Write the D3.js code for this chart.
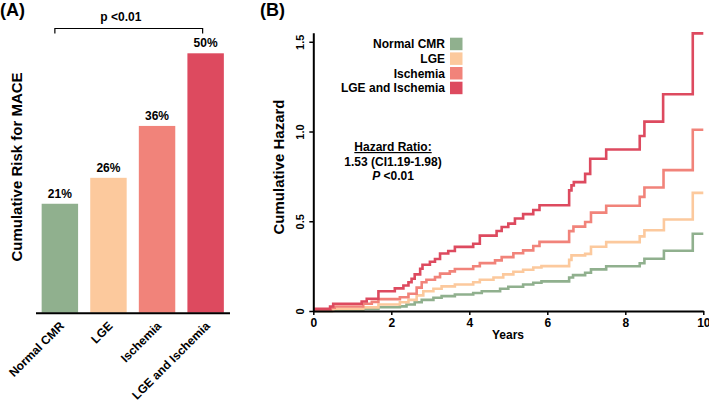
<!DOCTYPE html>
<html>
<head>
<meta charset="utf-8">
<script src="https://cdn.jsdelivr.net/npm/d3@7"></script>
<style>
  html, body { margin: 0; padding: 0; background: #fff; }
  svg { display: block; font-family: "Liberation Sans", Arial, Helvetica, sans-serif; }
</style>
</head>
<body>
<svg id="chart" width="709" height="402"></svg>
<script>
// ---------- Data ----------
const categories = ["Normal CMR", "LGE", "Ischemia", "LGE and Ischemia"];
const colors = ["#90b08e", "#fcc99d", "#f1837a", "#dd4a5f"];
const riskValues = [21, 26, 36, 50];
const riskLabels = ["21%", "26%", "36%", "50%"];

const normalT = [0, 0.47, 1.28, 1.67, 2.22, 2.39, 2.6, 2.78, 3.08, 3.29, 3.63, 4.1, 4.32, 4.79, 5.0, 5.38, 5.64, 5.85, 6.56, 6.66, 6.97, 7.12, 7.51, 8.37, 8.49, 8.99, 9.73, 10];
const normalV = [0, 0.006, 0.012, 0.021, 0.026, 0.036, 0.049, 0.062, 0.074, 0.083, 0.092, 0.1, 0.11, 0.124, 0.135, 0.148, 0.157, 0.165, 0.187, 0.2, 0.213, 0.232, 0.249, 0.266, 0.291, 0.336, 0.43, 0.43];

const lgeT = [0, 0.51, 1.28, 1.67, 2.22, 2.44, 2.65, 2.82, 3.08, 3.29, 3.63, 4.1, 4.27, 4.62, 4.87, 5.13, 5.38, 5.64, 5.85, 6.56, 6.62, 6.97, 7.12, 7.51, 8.37, 8.49, 8.99, 9.73, 10];
const lgeV = [0, 0.012, 0.02, 0.036, 0.049, 0.062, 0.087, 0.11, 0.124, 0.137, 0.148, 0.16, 0.174, 0.187, 0.204, 0.219, 0.23, 0.242, 0.25, 0.285, 0.31, 0.318, 0.358, 0.384, 0.416, 0.45, 0.51, 0.658, 0.658];

const ischT = [0, 0.45, 0.55, 1.28, 1.5, 1.67, 2.22, 2.44, 2.65, 2.78, 2.9, 3.12, 3.25, 3.5, 3.63, 4.1, 4.27, 4.66, 4.83, 5.13, 5.38, 5.64, 5.8, 6.56, 6.67, 6.97, 7.12, 7.51, 8.37, 8.49, 8.98, 9.73, 10];
const ischV = [0.005, 0.018, 0.025, 0.04, 0.051, 0.066, 0.077, 0.096, 0.13, 0.16, 0.174, 0.189, 0.208, 0.221, 0.234, 0.249, 0.267, 0.282, 0.3, 0.322, 0.338, 0.362, 0.385, 0.445, 0.47, 0.496, 0.548, 0.586, 0.636, 0.688, 0.785, 1.01, 1.01];

const bothT = [0, 0.43, 0.51, 1.24, 1.37, 1.67, 2.09, 2.31, 2.44, 2.52, 2.6, 2.74, 2.8, 2.99, 3.12, 3.25, 3.46, 3.63, 4.1, 4.27, 4.7, 4.83, 5.0, 5.17, 5.38, 5.64, 5.8, 6.56, 6.62, 6.68, 6.97, 7.1, 7.51, 8.37, 8.49, 8.97, 9.73, 10];
const bothV = [0.012, 0.025, 0.04, 0.053, 0.068, 0.11, 0.126, 0.142, 0.16, 0.18, 0.204, 0.235, 0.258, 0.274, 0.29, 0.32, 0.334, 0.357, 0.375, 0.42, 0.446, 0.468, 0.487, 0.515, 0.54, 0.563, 0.589, 0.672, 0.7, 0.718, 0.764, 0.848, 0.9, 0.975, 1.055, 1.208, 1.547, 1.547];

const yearTicks = [0, 2, 4, 6, 8, 10];
const hazardTicks = [0, 0.5, 1.0, 1.5];
const hazardTickLabels = ["0", "0.5", "1.0", "1.5"];

const seriesT = [normalT, lgeT, ischT, bothT];
const seriesV = [normalV, lgeV, ischV, bothV];

// ---------- Setup ----------
const svg = d3.select("#chart");

// ===== Panel A =====
const gA = svg.append("g");
const xA = d3.scaleBand().domain(categories).range([29.5, 236]).paddingInner(0.25).paddingOuter(0.25);
const yA = d3.scaleLinear().domain([0, 50]).range([312.7, 53.3]);

gA.append("text").attr("x", 0).attr("y", 16).attr("font-size", 18).attr("font-weight", "bold").text("(A)");

gA.selectAll("rect.bar").data(categories).enter().append("rect")
  .attr("class", "bar")
  .attr("x", d => xA(d))
  .attr("width", xA.bandwidth())
  .attr("y", (d, i) => yA(riskValues[i]))
  .attr("height", (d, i) => yA(0) - yA(riskValues[i]))
  .attr("fill", (d, i) => colors[i]);

gA.selectAll("text.val").data(categories).enter().append("text")
  .attr("class", "val")
  .attr("x", d => xA(d) + xA.bandwidth() / 2)
  .attr("y", (d, i) => yA(riskValues[i]) - 6)
  .attr("text-anchor", "middle")
  .attr("font-size", 12).attr("font-weight", "bold")
  .text((d, i) => riskLabels[i]);

// baseline axis
gA.append("line").attr("x1", 36).attr("x2", 230).attr("y1", yA(0) + 0.5).attr("y2", yA(0) + 0.5)
  .attr("stroke", "#000").attr("stroke-width", 2);

// rotated category labels
gA.selectAll("text.cat").data(categories).enter().append("text")
  .attr("class", "cat")
  .attr("text-anchor", "end")
  .attr("font-size", 12).attr("font-weight", "bold")
  .attr("transform", d => `translate(${xA(d) + xA.bandwidth() / 2 + 5},${yA(0) + 14}) rotate(-45)`)
  .text(d => d);

// y title
gA.append("text")
  .attr("transform", "translate(22,167) rotate(-90)")
  .attr("text-anchor", "middle")
  .attr("font-size", 15).attr("font-weight", "bold")
  .text("Cumulative Risk for MACE");

// bracket
const bx1 = xA(categories[0]) + xA.bandwidth() / 2 - 5;
const bx2 = xA(categories[3]) + xA.bandwidth() / 2 - 3;
gA.append("path")
  .attr("d", `M${bx1},33.5 V28.5 H${bx2} V33.5`)
  .attr("fill", "none").attr("stroke", "#000").attr("stroke-width", 1.2);
gA.append("text").attr("x", bx1 + 66).attr("y", 21)
  .attr("text-anchor", "middle").attr("font-size", 12).attr("font-weight", "bold")
  .text("p <0.01");

// ===== Panel B =====
const gB = svg.append("g");
const xB = d3.scaleLinear().domain([0, 10]).range([313.3, 703.3]);
const yB = d3.scaleLinear().domain([0, 1.55]).range([311, 32.8]);

gB.append("text").attr("x", 260).attr("y", 16).attr("font-size", 18).attr("font-weight", "bold").text("(B)");

// curves
const line = d3.line().x(d => xB(d[0])).y(d => yB(d[1])).curve(d3.curveStepAfter);
seriesT.forEach((ts, i) => {
  const pts = ts.map((t, j) => [t, seriesV[i][j]]);
  gB.append("path").datum(pts)
    .attr("d", line)
    .attr("fill", "none")
    .attr("stroke", colors[i])
    .attr("stroke-width", 2.6)
    .attr("stroke-linejoin", "miter");
});

// axes
const xAxis = d3.axisBottom(xB).tickValues(yearTicks).tickSize(4).tickSizeOuter(0).tickPadding(3);
const gx = gB.append("g").attr("transform", `translate(0,${yB(0)})`).call(xAxis);
gx.select(".domain").attr("stroke-width", 2);
gx.selectAll(".tick line").attr("stroke-width", 1.5);
gx.selectAll("text").attr("font-size", 12).attr("font-weight", "bold").attr("fill", "#000")
  .attr("font-family", "'Liberation Sans', Arial, sans-serif");

const yAxis = d3.axisLeft(yB).tickValues(hazardTicks).tickFormat((d, i) => hazardTickLabels[i]).tickSize(4).tickSizeOuter(0);
const gy = gB.append("g").attr("transform", `translate(${xB(0)},0)`).call(yAxis);
gy.select(".domain").attr("stroke-width", 2);
gy.selectAll(".tick line").attr("stroke-width", 1.5);
gy.selectAll("text")
  .attr("x", null).attr("dy", "0.35em")
  .attr("text-anchor", "middle")
  .attr("transform", "translate(-13,0) rotate(-90)")
  .attr("font-size", 11).attr("font-weight", "bold").attr("fill", "#000")
  .attr("font-family", "'Liberation Sans', Arial, sans-serif");

gB.append("text").attr("x", 508).attr("y", 339).attr("text-anchor", "middle")
  .attr("font-size", 12).attr("font-weight", "bold").text("Years");

gB.append("text")
  .attr("transform", "translate(284,167) rotate(-90)")
  .attr("text-anchor", "middle")
  .attr("font-size", 15).attr("font-weight", "bold")
  .text("Cumulative Hazard");

// legend
const legY = [44, 58.7, 73.3, 88];
categories.forEach((c, i) => {
  gB.append("text").attr("x", 445).attr("y", legY[i] + 4.3)
    .attr("text-anchor", "end").attr("font-size", 12).attr("font-weight", "bold").text(c);
  gB.append("rect").attr("x", 450).attr("y", legY[i] - 6.3).attr("width", 12.5).attr("height", 12.5)
    .attr("fill", colors[i]);
});

// hazard ratio annotation
const hr = gB.append("g").attr("font-size", 12).attr("font-weight", "bold").attr("text-anchor", "middle");
hr.append("text").attr("x", 393).attr("y", 151).attr("text-decoration", "underline").text("Hazard Ratio:");
hr.append("text").attr("x", 393).attr("y", 165.5).text("1.53 (CI1.19-1.98)");
const pt = hr.append("text").attr("x", 393).attr("y", 179.5);
pt.append("tspan").attr("font-style", "italic").text("P");
pt.append("tspan").text(" <0.01");
</script>
</body>
</html>
